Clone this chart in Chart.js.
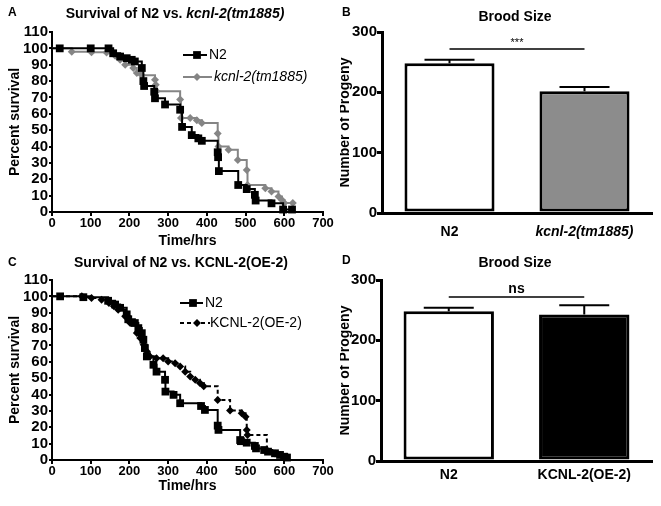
<!DOCTYPE html>
<html>
<head>
<meta charset="utf-8">
<script src="https://cdn.jsdelivr.net/npm/chart.js@4/dist/chart.umd.min.js"></script>
<style>
  body { margin: 0; background: #fff; width: 661px; height: 506px; overflow: hidden; }
  canvas { position: absolute; }
</style>
</head>
<body>
<canvas id="chartA" width="340" height="250" style="left:0;top:0"></canvas>
<canvas id="chartB" width="321" height="250" style="left:340px;top:0"></canvas>
<canvas id="chartC" width="340" height="256" style="left:0;top:250px"></canvas>
<canvas id="chartD" width="321" height="256" style="left:340px;top:250px"></canvas>
<script>
// ---- data ----
const timeTicks = [0, 100, 200, 300, 400, 500, 600, 700];
const survivalTicks = [0, 10, 20, 30, 40, 50, 60, 70, 80, 90, 100, 110];
const broodTicks = [0, 100, 200, 300];

// A: N2 vs kcnl-2(tm1885)
const aN2Time = [0, 20, 100, 146, 158, 176, 193, 206, 214, 232, 236, 238, 264, 266, 292, 331, 336, 361, 378, 387, 428, 429, 431, 481, 503, 524, 526, 567, 597, 620];
const aN2Surv = [100, 100, 100, 100, 97, 95, 94, 93, 92, 88, 80, 77, 73.5, 69.5, 65.7, 62.5, 52, 47, 45, 43.5, 36.5, 33.5, 25, 16.5, 14, 10.5, 7, 5.3, 1.5, 1.5];
const aMutTime = [0, 51, 102, 141, 163, 176, 189, 210, 219, 232, 266, 268, 270, 331, 333, 357, 374, 387, 428, 430, 456, 480, 503, 505, 551, 567, 585, 594, 600, 622];
const aMutSurv = [100, 98, 97.7, 97.5, 95.5, 93, 90, 88, 85, 83.5, 80.8, 77.8, 73.8, 68.7, 57.5, 57.5, 56, 54.4, 48, 40, 38, 31.8, 25.7, 16.5, 14.5, 12.5, 9.5, 7.3, 5.5, 5.5];

// C: N2 vs KCNL-2(OE-2)
const cN2Time = [0, 21, 81, 145, 163, 176, 193, 197, 214, 223, 232, 236, 240, 245, 262, 270, 292, 293, 314, 331, 385, 395, 428, 430, 486, 488, 503, 524, 527, 548, 558, 576, 589, 600, 607];
const cN2Surv = [100, 100, 99.5, 97.3, 95, 93, 89, 86, 83.7, 80.6, 77.5, 73.5, 68.4, 63.3, 58.2, 54, 49, 41.8, 39.8, 34.7, 33, 30.6, 21, 18.4, 12.2, 11.5, 10.6, 8.6, 7.1, 6.1, 5.1, 4.1, 3.1, 2, 1.5];
const cOeTime = [0, 77, 102, 128, 147, 160, 171, 189, 202, 219, 228, 237, 245, 253, 270, 287, 300, 318, 331, 344, 357, 370, 382, 392, 428, 460, 490, 500, 503, 505, 555, 576, 590, 605];
const cOeSurv = [100, 100, 99, 98, 96, 94, 91.8, 87.8, 83.7, 77.6, 74.5, 70.4, 66.3, 63.3, 62.2, 62.2, 60.2, 59.2, 57.1, 54, 51, 49, 47, 45, 36.7, 30.2, 28.6, 26.5, 18.4, 15.3, 6.1, 4, 3, 2];

// B / D: brood size (mean, SEM)
const broodLabelsB = ['N2', 'kcnl-2(tm1885)'];
const broodMeanB = [248, 202];
const broodSemB = [6, 7];
const broodFillB = ['#ffffff', '#8c8c8c'];
const sigB = { level: 272, text: '***' };

const broodLabelsD = ['N2', 'KCNL-2(OE-2)'];
const broodMeanD = [248, 243];
const broodSemD = [6, 15];
const broodFillD = ['#ffffff', '#000000'];
const sigD = { level: 272, text: 'ns' };

const F = '"Liberation Sans", Arial, sans-serif';
const GRAY = '#858585';

function pts(t, s) { return t.map((x, i) => ({ x: x, y: s[i] })); }

// panel letter, title runs and hand-placed legend
const deco = {
  id: 'deco',
  afterDraw(chart, args, o) {
    const ctx = chart.ctx;
    ctx.save();
    ctx.textBaseline = 'middle';
    ctx.textAlign = 'left';
    ctx.fillStyle = '#000';
    if (o.letter) {
      ctx.font = 'bold 12px ' + F;
      ctx.fillText(o.letter, o.letterX, o.letterY);
    }
    if (o.title) {
      let w = 0;
      o.title.forEach(r => { ctx.font = r.font; w += ctx.measureText(r.text).width; });
      let x = o.titleX - w / 2;
      o.title.forEach(r => { ctx.font = r.font; ctx.fillText(r.text, x, o.titleY); x += ctx.measureText(r.text).width; });
    }
    (o.legend || []).forEach(it => {
      ctx.strokeStyle = it.color;
      ctx.lineWidth = 2;
      ctx.setLineDash(it.dash || []);
      ctx.beginPath();
      ctx.moveTo(it.x0, it.y);
      ctx.lineTo(it.x1, it.y);
      ctx.stroke();
      ctx.setLineDash([]);
      ctx.fillStyle = it.color;
      Chart.helpers.drawPoint(ctx, { pointStyle: it.style, radius: it.r, borderWidth: 0 }, it.px, it.y);
      ctx.fillStyle = '#000';
      ctx.font = it.font;
      ctx.fillText(it.text, it.tx, it.y);
    });
    ctx.restore();
  }
};

// error bars (upper SEM) and significance bracket for bar panels
const errorBars = {
  id: 'errorBars',
  afterDatasetsDraw(chart, args, o) {
    const ctx = chart.ctx, xs = chart.scales.x, ys = chart.scales.y;
    ctx.save();
    ctx.strokeStyle = '#000';
    ctx.lineWidth = 2;
    o.mean.forEach((m, i) => {
      const x = xs.getPixelForValue(i);
      const y0 = ys.getPixelForValue(m), y1 = ys.getPixelForValue(m + o.sem[i]);
      ctx.beginPath();
      ctx.moveTo(x, y0); ctx.lineTo(x, y1);
      ctx.moveTo(x - 25, y1); ctx.lineTo(x + 25, y1);
      ctx.stroke();
    });
    const xa = xs.getPixelForValue(0), xb = xs.getPixelForValue(1), ly = ys.getPixelForValue(o.sig.level);
    ctx.lineWidth = 1.5;
    ctx.beginPath(); ctx.moveTo(xa, ly); ctx.lineTo(xb, ly); ctx.stroke();
    ctx.fillStyle = '#000';
    ctx.textAlign = 'center';
    ctx.textBaseline = 'alphabetic';
    ctx.font = o.sigFont;
    ctx.fillText(o.sig.text, (xa + xb) / 2, ly + o.sigDy);
    ctx.restore();
  }
};

function survivalOptions(xh, titleBottom, d) {
  return {
    responsive: false,
    animation: false,
    devicePixelRatio: 1,
    layout: { padding: { top: d.top, right: 17, left: 0, bottom: 0 } },
    plugins: { legend: { display: false }, tooltip: { enabled: false }, deco: d },
    scales: {
      x: {
        type: 'linear', min: 0, max: 700,
        afterBuildTicks: s => { s.ticks = timeTicks.map(v => ({ value: v })); },
        afterFit: s => { s.height = xh; },
        grid: { display: true, drawOnChartArea: false, drawTicks: true, tickLength: 4, lineWidth: 2, color: '#000' },
        border: { display: true, color: '#000', width: 2 },
        ticks: { color: '#000', font: { family: F, size: 13, weight: 'bold' }, padding: 0, maxRotation: 0, autoSkip: false },
        title: { display: true, text: 'Time/hrs', color: '#000', font: { family: F, size: 14, weight: 'bold' }, padding: { top: 0, bottom: titleBottom } }
      },
      y: {
        min: 0, max: 110,
        afterBuildTicks: s => { s.ticks = survivalTicks.map(v => ({ value: v })); },
        afterFit: s => { s.width = 52; },
        grid: { display: true, drawOnChartArea: false, drawTicks: true, tickLength: 3, lineWidth: 2, color: '#000' },
        border: { display: true, color: '#000', width: 2 },
        ticks: { color: '#000', font: { family: F, size: 15, weight: 'bold' }, padding: 1, autoSkip: false },
        title: { display: true, text: 'Percent survival', color: '#000', font: { family: F, size: 14, weight: 'bold' }, padding: { top: 7, bottom: 0 } }
      }
    }
  };
}

function survivalSet(label, t, s, color, style, r, dash) {
  return {
    label: label,
    data: pts(t, s),
    stepped: true,
    borderColor: color,
    backgroundColor: color,
    borderWidth: 2,
    borderDash: dash || [],
    pointStyle: style,
    pointRadius: c => (c.dataIndex === 0 ? 0 : r),
    pointBorderWidth: 0,
    pointBackgroundColor: color,
    clip: false
  };
}

new Chart(document.getElementById('chartA'), {
  type: 'line',
  data: {
    datasets: [
      survivalSet('N2', aN2Time, aN2Surv, '#000', 'rect', 5.5),
      survivalSet('kcnl-2(tm1885)', aMutTime, aMutSurv, GRAY, 'rectRot', 4)
    ]
  },
  options: survivalOptions(38, 0, {
    top: 32,
    letter: 'A', letterX: 8, letterY: 13,
    titleX: 175, titleY: 14,
    title: [
      { text: 'Survival of N2 vs. ', font: 'bold 14px ' + F },
      { text: 'kcnl-2(tm1885)', font: 'italic bold 14px ' + F }
    ],
    legend: [
      { text: 'N2', font: '14px ' + F, color: '#000', style: 'rect', r: 5.5, x0: 183, x1: 207, px: 197, tx: 209, y: 55 },
      { text: 'kcnl-2(tm1885)', font: 'italic 14px ' + F, color: GRAY, style: 'rectRot', r: 4, x0: 183, x1: 212, px: 197, tx: 214, y: 77 }
    ]
  }),
  plugins: [deco]
});

new Chart(document.getElementById('chartC'), {
  type: 'line',
  data: {
    datasets: [
      survivalSet('N2', cN2Time, cN2Surv, '#000', 'rect', 5.5),
      survivalSet('KCNL-2(OE-2)', cOeTime, cOeSurv, '#000', 'rectRot', 4, [4, 3])
    ]
  },
  options: survivalOptions(46, 11, {
    top: 30,
    letter: 'C', letterX: 8, letterY: 13,
    titleX: 181, titleY: 13,
    title: [{ text: 'Survival of N2 vs. KCNL-2(OE-2)', font: 'bold 14px ' + F }],
    legend: [
      { text: 'N2', font: '14px ' + F, color: '#000', style: 'rect', r: 5.5, x0: 180, x1: 203, px: 193, tx: 205, y: 53 },
      { text: 'KCNL-2(OE-2)', font: '14px ' + F, color: '#000', style: 'rectRot', r: 4, dash: [4, 3], x0: 180, x1: 210, px: 197, tx: 210, y: 73 }
    ]
  }),
  plugins: [deco]
});

function broodChart(id, labels, means, sems, fills, sig, sigFont, sigDy, xh, tickPad, d) {
  return new Chart(document.getElementById(id), {
    type: 'bar',
    data: {
      labels: labels,
      datasets: [{
        data: means,
        backgroundColor: fills,
        borderColor: '#000',
        borderWidth: 3,
        borderSkipped: false,
        categoryPercentage: 1,
        barPercentage: 0.667
      }]
    },
    options: {
      responsive: false,
      animation: false,
      devicePixelRatio: 1,
      layout: { padding: { top: d.top, right: 9, left: 0, bottom: 0 } },
      plugins: {
        legend: { display: false }, tooltip: { enabled: false },
        deco: d,
        errorBars: { mean: means, sem: sems, sig: sig, sigFont: sigFont, sigDy: sigDy }
      },
      scales: {
        x: {
          afterFit: s => { s.height = xh; },
          grid: { display: false, drawTicks: false },
          border: { display: true, color: '#000', width: 3 },
          ticks: {
            color: '#000', padding: tickPad, maxRotation: 0,
            font: c => ({ family: F, size: 14, weight: 'bold', style: (c.index === 1 && labels[1].startsWith('kcnl')) ? 'italic' : 'normal' })
          }
        },
        y: {
          min: 0, max: 300,
          afterBuildTicks: s => { s.ticks = broodTicks.map(v => ({ value: v })); },
          afterFit: s => { s.width = d.yw; },
          grid: { display: true, drawOnChartArea: false, drawTicks: true, tickLength: 5, lineWidth: 3, color: '#000' },
          border: { display: true, color: '#000', width: 3 },
          ticks: { color: '#000', font: { family: F, size: 15, weight: 'bold' }, padding: 0 },
          title: { display: true, text: 'Number of Progeny', color: '#000', font: { family: F, size: 14, weight: 'bold' }, padding: { top: -3, bottom: 0 } }
        }
      }
    },
    plugins: [deco, errorBars]
  });
}

broodChart('chartB', broodLabelsB, broodMeanB, broodSemB, broodFillB, sigB, '11px ' + F, -3, 37, 11, {
  top: 32, yw: 42,
  letter: 'B', letterX: 2, letterY: 13,
  titleX: 175, titleY: 17,
  title: [{ text: 'Brood Size', font: 'bold 14px ' + F }]
});

broodChart('chartD', broodLabelsD, broodMeanD, broodSemD, broodFillD, sigD, 'bold 14px ' + F, -4, 45, 6, {
  top: 30, yw: 41,
  letter: 'D', letterX: 2, letterY: 11,
  titleX: 175, titleY: 13,
  title: [{ text: 'Brood Size', font: 'bold 14px ' + F }]
});
</script>
</body>
</html>
